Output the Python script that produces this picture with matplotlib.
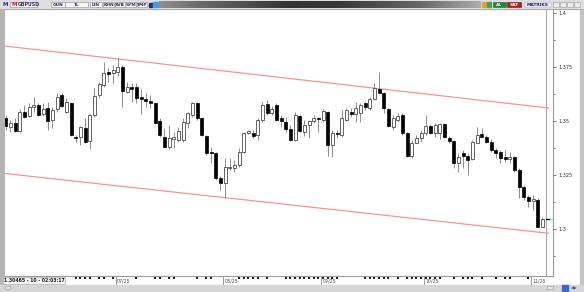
import matplotlib
matplotlib.use('Agg')
import matplotlib.pyplot as plt
import numpy as np
import pandas as pd
from matplotlib.patches import Rectangle
from matplotlib.ticker import FixedLocator, FuncFormatter

# ---------------- data (GBPUSD daily) ----------------
symbol = "GBPUSD"
first_day = "2025-05-28"
opens = [1.3513, 1.3471, 1.3492, 1.3455, 1.3543, 1.3523, 1.3563, 1.3574, 1.3532, 1.3559,
         1.3505, 1.3554, 1.3620, 1.3543, 1.3585, 1.3427, 1.3427, 1.3466, 1.3409, 1.3528,
         1.3620, 1.3667, 1.3728, 1.3721, 1.3728, 1.3749, 1.3636, 1.3656, 1.3656, 1.3610,
         1.3600, 1.3593, 1.3582, 1.3502, 1.3425, 1.3381, 1.3419, 1.3412, 1.3412, 1.3489,
         1.3528, 1.3582, 1.3512, 1.3431, 1.3358, 1.3350, 1.3235, 1.3214, 1.3281, 1.3281,
         1.3296, 1.3358, 1.3446, 1.3443, 1.3435, 1.3505, 1.3579, 1.3536, 1.3574, 1.3512,
         1.3497, 1.3462, 1.3412, 1.3525, 1.3451, 1.3482, 1.3502, 1.3512, 1.3505, 1.3543,
         1.3389, 1.3443, 1.3435, 1.3505, 1.3543, 1.3532, 1.3536, 1.3582, 1.3559, 1.3600,
         1.3647, 1.3628, 1.3554, 1.3474, 1.3505, 1.3528, 1.3443, 1.3338, 1.3400, 1.3420,
         1.3443, 1.3477, 1.3443, 1.3443, 1.3486, 1.3423, 1.3409, 1.3304, 1.3353, 1.3338,
         1.3323, 1.3400, 1.3440, 1.3427, 1.3404, 1.3366, 1.3356, 1.3332, 1.3326, 1.3335,
         1.3273, 1.3193, 1.3150, 1.3131, 1.3134, 1.3011]
highs = [1.3528, 1.3505, 1.3513, 1.3554, 1.3574, 1.3585, 1.3613, 1.3585, 1.3582, 1.3589,
         1.3566, 1.3628, 1.3628, 1.3605, 1.3589, 1.3435, 1.3477, 1.3513, 1.3536, 1.3651,
         1.3682, 1.3775, 1.3744, 1.3759, 1.3790, 1.3759, 1.3682, 1.3675, 1.3675, 1.3647,
         1.3628, 1.3620, 1.3590, 1.3512, 1.3466, 1.3482, 1.3451, 1.3471, 1.3512, 1.3543,
         1.3590, 1.3590, 1.3520, 1.3435, 1.3381, 1.3358, 1.3245, 1.3327, 1.3327, 1.3319,
         1.3373, 1.3451, 1.3458, 1.3458, 1.3512, 1.3590, 1.3597, 1.3570, 1.3582, 1.3528,
         1.3520, 1.3482, 1.3543, 1.3528, 1.3505, 1.3505, 1.3528, 1.3520, 1.3554, 1.3546,
         1.3458, 1.3458, 1.3551, 1.3559, 1.3559, 1.3590, 1.3585, 1.3590, 1.3613, 1.3675,
         1.3728, 1.3636, 1.3559, 1.3528, 1.3536, 1.3536, 1.3450, 1.3412, 1.3435, 1.3458,
         1.3528, 1.3486, 1.3492, 1.3489, 1.3489, 1.3431, 1.3412, 1.3350, 1.3366, 1.3350,
         1.3412, 1.3474, 1.3466, 1.3435, 1.3415, 1.3374, 1.3366, 1.3366, 1.3358, 1.3338,
         1.3281, 1.3204, 1.3157, 1.3157, 1.3142, 1.3054]
lows = [1.3458, 1.3450, 1.3450, 1.3450, 1.3513, 1.3520, 1.3543, 1.3523, 1.3523, 1.3458,
        1.3466, 1.3543, 1.3563, 1.3536, 1.3431, 1.3404, 1.3389, 1.3397, 1.3369, 1.3520,
        1.3605, 1.3659, 1.3682, 1.3675, 1.3708, 1.3566, 1.3628, 1.3589, 1.3582, 1.3532,
        1.3566, 1.3559, 1.3486, 1.3425, 1.3378, 1.3369, 1.3373, 1.3404, 1.3404, 1.3466,
        1.3520, 1.3505, 1.3431, 1.3343, 1.3304, 1.3227, 1.3181, 1.3142, 1.3273, 1.3265,
        1.3288, 1.3350, 1.3440, 1.3420, 1.3412, 1.3497, 1.3528, 1.3528, 1.3502, 1.3474,
        1.3451, 1.3409, 1.3409, 1.3451, 1.3431, 1.3420, 1.3489, 1.3451, 1.3497, 1.3338,
        1.3335, 1.3420, 1.3428, 1.3502, 1.3520, 1.3497, 1.3497, 1.3551, 1.3551, 1.3597,
        1.3628, 1.3536, 1.3471, 1.3458, 1.3497, 1.3435, 1.3335, 1.3327, 1.3397, 1.3404,
        1.3435, 1.3440, 1.3427, 1.3415, 1.3420, 1.3397, 1.3281, 1.3265, 1.3281, 1.3250,
        1.3319, 1.3397, 1.3425, 1.3400, 1.3358, 1.3327, 1.3304, 1.3312, 1.3304, 1.3265,
        1.3142, 1.3134, 1.3103, 1.3088, 1.3008, 1.3008]
closes = [1.3477, 1.3492, 1.3455, 1.3543, 1.3520, 1.3566, 1.3574, 1.3528, 1.3554, 1.3501,
          1.3551, 1.3613, 1.3569, 1.3589, 1.3435, 1.3420, 1.3471, 1.3404, 1.3528, 1.3616,
          1.3671, 1.3724, 1.3718, 1.3736, 1.3751, 1.3640, 1.3659, 1.3647, 1.3605, 1.3601,
          1.3593, 1.3582, 1.3489, 1.3435, 1.3381, 1.3420, 1.3425, 1.3455, 1.3497, 1.3536,
          1.3585, 1.3512, 1.3435, 1.3350, 1.3350, 1.3235, 1.3212, 1.3288, 1.3288, 1.3296,
          1.3358, 1.3443, 1.3454, 1.3431, 1.3505, 1.3574, 1.3536, 1.3556, 1.3505, 1.3502,
          1.3462, 1.3412, 1.3528, 1.3454, 1.3482, 1.3502, 1.3512, 1.3508, 1.3548, 1.3389,
          1.3443, 1.3438, 1.3512, 1.3551, 1.3532, 1.3559, 1.3574, 1.3563, 1.3600, 1.3651,
          1.3631, 1.3559, 1.3477, 1.3512, 1.3523, 1.3443, 1.3338, 1.3397, 1.3420, 1.3443,
          1.3477, 1.3443, 1.3482, 1.3485, 1.3425, 1.3409, 1.3304, 1.3335, 1.3338, 1.3319,
          1.3404, 1.3435, 1.3427, 1.3404, 1.3366, 1.3353, 1.3327, 1.3323, 1.3335, 1.3273,
          1.3196, 1.3150, 1.3131, 1.3139, 1.3011, 1.3047]

# trend channel (start/end bar positions and prices)
channel_x = [-0.15, 116.4]
upper_channel = [1.3847, 1.3560]
lower_channel = [1.3257, 1.2980]

# bars carrying small event markers on the date strip
event_bars = [15, 16, 17, 18, 20, 21, 23, 28, 32, 33, 35, 36, 41, 43, 44, 50, 51, 52, 53,
              54, 56, 60, 61, 62, 63, 64, 65, 66, 67, 68, 69, 70, 71, 77, 78, 79, 80, 81,
              82, 84, 86, 87, 88, 89, 90, 91, 92, 93, 96, 98, 99, 100, 102, 105, 107, 108, 112]

y_major = [1.3, 1.325, 1.35, 1.375, 1.4]
status_text = "1.30465 - 10 - 02:03:17"
toolbar_buttons = ["GUN", "TL", "LIN", "KHN", "SVB", "SYM", "TMP"]

# ---------------- figure ----------------
W, H = 584, 292
fig = plt.figure(figsize=(W / 100, H / 100), dpi=100)
fig.patch.set_facecolor('#d8d8d8')
FONT = 'DejaVu Sans'


def ax_px(x0, y0, x1, y1, z=1):
    a = fig.add_axes([x0 / W, 1 - y1 / H, (x1 - x0) / W, (y1 - y0) / H])
    a.set_zorder(z)
    return a


# background frame
bg = ax_px(0, 0, W, H, z=0)
bg.set_xlim(0, W); bg.set_ylim(H, 0); bg.axis('off')
bg.add_patch(Rectangle((0, 0), W, H, color='#d8d8d8'))
bg.add_patch(Rectangle((4, 9), 577, 276, color='white'))
bg.add_patch(Rectangle((0, 8), 4.5, 278, color='#b4b4b4'))
bg.add_patch(Rectangle((580, 8), 4, 278, color='#c4c4c4'))
bg.add_patch(Rectangle((0, 284.5), W, 8, color='#d6d6d6'))

# ---------------- main price axes ----------------
dates = pd.bdate_range(first_day, periods=len(opens))
xs = np.arange(len(opens))
o = np.array(opens); h = np.array(highs); l = np.array(lows); c = np.array(closes)
up = c >= o

ax = ax_px(5, 9, 553, 276, z=2)
ax.set_facecolor('white')
ax.set_xlim(-0.15, 117.27)
ax.set_ylim(1.27824, 1.40186)

ax.plot(channel_x, upper_channel, color='#ff9090', lw=0.9, zorder=2, solid_capstyle='butt')
ax.plot(channel_x, lower_channel, color='#ff9090', lw=0.9, zorder=2, solid_capstyle='butt')

ax.vlines(xs, l, h, colors='#7a7a7a', lw=0.6, zorder=3)
body_bottom = np.minimum(o, c)
body_h = np.maximum(np.abs(c - o), 0.00022)
ax.bar(xs[up], body_h[up], bottom=body_bottom[up], width=0.64,
       facecolor='white', edgecolor='#4a4a4a', linewidth=0.6, zorder=4)
ax.bar(xs[~up], body_h[~up], bottom=body_bottom[~up], width=0.64,
       facecolor='black', edgecolor='black', linewidth=0.5, zorder=4)

# separator of the price column and last price marker
ax.axvline(115.77, color='#a8a8a8', lw=0.8, zorder=1)
ax.plot([115.85, 116.6], [closes[-1], closes[-1]], color='black', lw=0.9, zorder=5)
ax.plot([116.6, 117.27], [closes[-1], closes[-1]], color='#7fe0f0', lw=0.9, zorder=5)

for s in ['top', 'left']:
    ax.spines[s].set_visible(False)
ax.spines['right'].set_color('#9a9a9a'); ax.spines['right'].set_linewidth(0.8)
ax.spines['bottom'].set_color('#9a9a9a'); ax.spines['bottom'].set_linewidth(0.8)

ax.yaxis.tick_right()
ax.yaxis.set_major_locator(FixedLocator(y_major))
ax.yaxis.set_minor_locator(FixedLocator([v + 0.0125 for v in y_major] + [y_major[0] - 0.0125]))
ax.yaxis.set_major_formatter(FuncFormatter(lambda v, p: f"{v:g}"))
ax.tick_params(axis='y', which='major', direction='out', length=2.5, width=0.6,
               color='#606060', labelsize=3.6, pad=1.2, labelcolor='#303030')
ax.tick_params(axis='y', which='minor', direction='out', length=1.6, width=0.6, color='#606060')
for t in ax.get_yticklabels():
    t.set_fontfamily(FONT)
ax.set_xticks([])

# ---------------- date strip ----------------
dax = ax_px(5, 276, 553, 284.5, z=2)
dax.set_xlim(ax.get_xlim()); dax.set_ylim(0, 1)
dax.axis('off')
month_start = [i for i in range(1, len(dates)) if dates[i].month != dates[i - 1].month]
for i in month_start:
    dax.plot([i - 0.35, i - 0.35], [0.05, 0.85], color='#8a8a8a', lw=0.6)
    dax.text(i - 0.1, 0.42, dates[i].strftime('%m/%y'), fontsize=3.4, family=FONT,
             color='#555555', va='center', ha='left')
dax.scatter(event_bars, [0.78] * len(event_bars), marker='s', s=0.9, color='#222222', lw=0)

# ---------------- overlay: toolbar, status ----------------
ov = ax_px(0, 0, W, H, z=3)
ov.set_xlim(0, W); ov.set_ylim(H, 0); ov.axis('off')
ov.patch.set_alpha(0)

ov.add_patch(Rectangle((0, 0), W, 8.5, color='#dedede'))
ov.plot([0, W], [8.6, 8.6], color='#a0a0a0', lw=0.6)
# gradient bar
gx = np.linspace(159, 481, 300)
kx = [159, 200, 290, 340, 420, 481]
kv = [0.56, 0.42, 0.20, 0.22, 0.40, 0.68]
g = np.interp(gx, kx, kv)
ov.imshow(np.repeat(g[None, :, None], 3, axis=2),
          extent=(159, 481, 7.8, 1.2), aspect='auto', zorder=1)
ov.set_xlim(0, W); ov.set_ylim(H, 0)


def box(x0, x1, txt=None, fc='#f6f6f6', tc='#333366', ec='#8c8c8c', size=3.5, y0=1.6, y1=7.4):
    ov.add_patch(Rectangle((x0, y0), x1 - x0, y1 - y0, facecolor=fc, edgecolor=ec, lw=0.4, zorder=2))
    if txt:
        ov.text((x0 + x1) / 2, (y0 + y1) / 2 + 0.2, txt, fontsize=size, family=FONT, weight='bold',
                color=tc, ha='center', va='center', zorder=3)


ov.text(5, 4.7, 'M', fontsize=4, family=FONT, weight='bold', color='#1b3c9c',
        ha='center', va='center')
box(10, 37)
ov.text(14, 4.6, 'M', fontsize=4, family=FONT, weight='bold', color='#d02020', ha='center', va='center', zorder=3)
ov.text(18, 4.7, symbol, fontsize=3.4, family=FONT, weight='bold', color='#333366', ha='left', va='center', zorder=3)
bx = [(51, 65), (65, 88), (90, 102), (103, 114), (115, 125), (125, 136), (137, 147)]
for (x0, x1), t in zip(bx, toolbar_buttons):
    box(x0, x1, t, size=3.2)
ov.add_patch(Rectangle((148.5, 2.5), 3.5, 4, color='#2a2a6a', zorder=2))
ov.add_patch(Rectangle((153, 2.2), 4.5, 4.6, color='#3aa0e0', zorder=2))
ov.add_patch(Rectangle((482, 2.0), 3.5, 5, color='#e8a020', zorder=2))
ov.add_patch(Rectangle((487, 2.0), 4, 5, color='#40a060', zorder=2))
box(493, 506, 'AL', fc='#1f8a3c', tc='white', ec='#1f6a30', size=3.2)
box(507, 521, 'SAT', fc='#b31a1a', tc='white', ec='#7a1010', size=3.2)
box(524, 551, 'MATRIKS', fc='#e6e6ee', tc='#24247a', ec='#c0c0c8', size=3.2)
for x0 in [553, 560, 567, 574]:
    ov.add_patch(Rectangle((x0, 2.2), 5.5, 4.6, facecolor='#ececec', edgecolor='#9a9a9a', lw=0.4, zorder=2))

# status box
ov.add_patch(Rectangle((3, 276.6), 62, 7, facecolor='#f2f2f2', edgecolor='#a0a0a0', lw=0.4, zorder=2))
ov.text(4.5, 280.3, status_text, fontsize=3.3, family=FONT, weight='bold', color='#222222',
        ha='left', va='center', zorder=3)
ov.add_patch(Rectangle((5, 286), 5, 3, facecolor='#e8e8e8', edgecolor='#909090', lw=0.4, zorder=2))
ov.add_patch(Rectangle((547, 286), 6, 3, facecolor='#e8e8e8', edgecolor='#909090', lw=0.4, zorder=2))
ov.add_patch(Rectangle((562, 285), 6, 6, color='#3a6ad0', zorder=2))
ov.text(574, 288, '◀▶', fontsize=3.2, family=FONT, color='#2a5ac0', ha='center', va='center', zorder=3)

fig.savefig('out.png', dpi=100, facecolor=fig.get_facecolor())
